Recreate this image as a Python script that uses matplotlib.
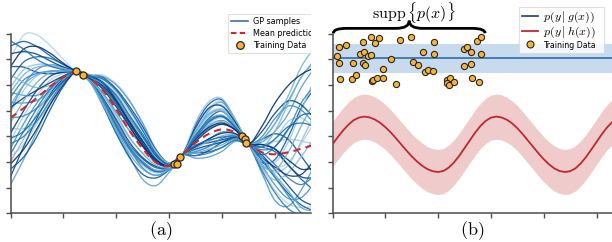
import numpy as np
import matplotlib
matplotlib.use("Agg")
import matplotlib.pyplot as plt
from matplotlib.lines import Line2D
from matplotlib.path import Path
from matplotlib.patches import PathPatch
from matplotlib.transforms import Bbox, TransformedBbox

plt.rcParams['mathtext.fontset'] = 'cm'
plt.rcParams['font.family'] = ['DejaVu Sans']

# ---------------- panel (a) data ----------------
gp_x = [0.00, 0.25, 0.50, 0.75, 1.00, 1.25, 1.50, 1.75, 2.00, 2.25, 2.50, 2.75,
        3.00, 3.25, 3.50, 3.75, 4.00, 4.25, 4.50, 4.75, 5.00, 5.25, 5.50, 5.75]
mean_pred = [3.72, 4.10, 4.50, 4.94, 5.30, 5.52, 5.25, 4.78, 4.05, 3.22, 2.52, 1.98,
             1.85, 2.28, 2.75, 3.10, 3.27, 3.15, 2.70, 2.38, 2.30, 2.38, 2.52, 2.68]
sample_dev = [
    [2.3, 2.85, 2.45, 1.6, 0.7, 0, 0.15, 0.6, 1.0, 1.2, 0.9, 0.4, 0.1, 0.0, 0.5, 1.0, 1.1, 0.5, 0.0, -0.6, -1.4, -2.0, -2.3, -2.4],
    [-2.6, -2.0, -1.3, -0.7, -0.25, 0, -0.1, -0.5, -0.85, -1.0, -1.2, -0.9, -0.25, 0.0, 0.4, 0.9, 1.05, 0.45, 0.0, 0.5, 1.2, 2.0, 2.8, 3.3],
    [1.5, 1.8, 1.6, 1.1, 0.5, 0, -0.05, -0.3, -0.5, -0.55, -0.4, -0.2, -0.05, 0.0, -0.4, -0.7, -0.7, -0.3, 0.0, 0.2, 0.1, -0.5, -1.2, -1.8],
    [-1.5, -1.4, -1.0, -0.6, -0.25, 0, 0.1, 0.4, 0.7, 0.8, 0.55, 0.25, 0.05, 0.0, 0.2, 0.4, 0.45, 0.2, 0.0, -0.3, -0.5, -0.4, 0.2, 0.9],
    [0.6, 0.2, -0.1, -0.2, -0.15, 0, 0.05, 0.2, 0.35, 0.4, 0.3, 0.15, 0.05, 0.0, -0.6, -0.9, -0.85, -0.35, 0.0, 0.4, 0.9, 1.5, 2.4, 3.0],
    [2.8, 2.6, 2.0, 1.2, 0.5, 0, -0.1, -0.4, -0.7, -0.75, -0.6, -0.35, -0.1, 0.0, 0.7, 1.15, 1.15, 0.5, 0.0, -0.3, -0.9, -1.6, -2.2, -2.6],
    [-0.9, -0.3, 0.1, 0.25, 0.15, 0, 0.1, 0.35, 0.6, 0.75, 0.7, 0.4, 0.1, 0.0, -0.3, -0.5, -0.45, -0.2, 0.0, 0.3, 0.5, 0.5, 0.3, 0.0],
    [1.0, 0.5, 0.1, -0.1, -0.1, 0, 0.15, 0.55, 0.95, 1.15, 1.0, 0.5, 0.1, 0.0, 0.1, 0.3, 0.35, 0.15, 0.0, -0.8, -1.8, -2.1, -1.6, -0.8],
    [-2.0, -1.9, -1.5, -0.9, -0.35, 0, -0.12, -0.6, -0.95, -1.05, -1.0, -0.6, -0.15, 0.0, 0.25, 0.6, 0.7, 0.3, 0.0, -0.4, -0.2, 0.6, 1.6, 2.2],
    [0.2, 0.7, 0.85, 0.6, 0.25, 0, -0.05, -0.2, -0.3, -0.3, -0.15, 0.0, 0.0, 0.0, 0.55, 0.95, 0.95, 0.4, 0.0, 0.1, 0.6, 1.2, 1.2, 0.6],
    [-1.2, -0.6, -0.2, 0.0, 0.05, 0, 0.05, 0.25, 0.4, 0.35, 0.2, 0.05, 0.0, 0.0, -0.2, -0.2, -0.1, -0.05, 0.0, -0.5, -1.2, -1.8, -1.9, -1.5],
    [2.0, 1.6, 1.0, 0.5, 0.2, 0, 0.12, 0.5, 0.8, 0.95, 0.85, 0.5, 0.1, 0.0, -0.5, -0.65, -0.5, -0.2, 0.0, 0.5, 0.8, 0.5, -0.3, -1.2],
    [-0.4, -0.8, -0.9, -0.7, -0.3, 0, -0.15, -0.55, -0.8, -0.8, -0.65, -0.4, -0.1, 0.0, 0.8, 1.25, 1.2, 0.5, 0.0, -0.2, -0.3, 0.4, 1.5, 2.6],
    [0.3, 0.9, 1.1, 0.85, 0.4, 0, 0.0, -0.1, -0.1, 0.0, 0.1, 0.1, 0.0, 0.0, 0.3, 0.55, 0.55, 0.25, 0.0, 0.6, 1.4, 1.8, 1.5, 0.8],
    [-2.3, -1.5, -0.8, -0.3, -0.05, 0, 0.05, 0.15, 0.2, 0.2, 0.1, 0.0, 0.0, 0.0, -0.1, -0.35, -0.4, -0.2, 0.0, -0.1, -0.6, -1.3, -2.0, -2.4],
    [1.2, 1.5, 1.3, 0.85, 0.35, 0, 0.1, 0.35, 0.5, 0.55, 0.5, 0.3, 0.05, 0.0, 0.35, 0.7, 0.8, 0.35, 0.0, -0.45, -0.7, -0.5, 0.3, 1.2],
    [0.0, -0.3, -0.4, -0.35, -0.15, 0, -0.05, -0.3, -0.6, -0.7, -0.75, -0.5, -0.15, 0.0, 0.1, 0.2, 0.2, 0.1, 0.0, 0.1, 0.3, 0.9, 1.8, 2.3],
    [2.5, 2.2, 1.7, 1.0, 0.4, 0, -0.1, -0.3, -0.4, -0.45, -0.35, -0.15, -0.05, 0.0, -0.25, -0.45, -0.5, -0.25, 0.0, 0.8, 1.6, 2.0, 1.7, 1.0],
    [-1.7, -1.2, -0.6, -0.2, 0.0, 0, 0.15, 0.45, 0.7, 0.85, 0.75, 0.45, 0.1, 0.0, 0.45, 0.8, 0.75, 0.3, 0.0, -0.6, -1.0, -0.8, -0.3, 0.3],
    [0.8, 1.1, 0.95, 0.6, 0.25, 0, -0.1, -0.45, -0.65, -0.65, -0.5, -0.3, -0.05, 0.0, -0.35, -0.5, -0.35, -0.15, 0.0, -0.3, -0.9, -1.7, -2.5, -2.7],
    [-0.6, -0.1, 0.3, 0.4, 0.2, 0, 0.1, 0.3, 0.45, 0.5, 0.45, 0.25, 0.05, 0.0, 0.6, 1.0, 0.9, 0.4, 0.0, 0.3, 0.2, -0.5, -1.1, -1.3],
    [1.7, 1.0, 0.4, 0.05, -0.05, 0, -0.1, -0.35, -0.55, -0.6, -0.55, -0.3, -0.1, 0.0, 0.2, 0.35, 0.3, 0.1, 0.0, 0.2, 0.9, 1.9, 2.8, 3.2],
    [-1.0, -1.1, -0.9, -0.55, -0.2, 0, 0.05, 0.1, 0.25, 0.3, 0.3, 0.2, 0.05, 0.0, -0.5, -0.75, -0.7, -0.3, 0.0, 0.0, -0.4, -1.0, -1.4, -1.2],
    [0.4, 0.4, 0.3, 0.15, 0.05, 0, 0.05, 0.2, 0.3, 0.35, 0.3, 0.15, 0.0, 0.0, 0.05, 0.15, 0.2, 0.1, 0.0, -0.2, -0.5, -0.9, -1.0, -0.6],
    [1.0, 1.3, 1.2, 0.8, 0.35, 0, 0.05, 0.25, 0.45, 0.5, 0.4, 0.2, 0.05, 0.0, -0.2, -0.3, -0.25, -0.1, 0.0, 0.5, 1.2, 2.2, 3.2, 3.8],
    [-1.4, -0.9, -0.4, -0.1, 0.0, 0, -0.08, -0.35, -0.6, -0.65, -0.55, -0.35, -0.1, 0.0, 0.3, 0.5, 0.5, 0.2, 0.0, -0.7, -1.5, -2.2, -2.6, -2.8],
    [2.0, 2.3, 2.0, 1.3, 0.55, 0, 0.1, 0.3, 0.35, 0.3, 0.2, 0.1, 0.0, 0.0, -0.15, -0.2, -0.15, -0.05, 0.0, 0.3, 0.2, -0.3, -0.8, -0.9],
    [-0.2, 0.3, 0.6, 0.55, 0.25, 0, -0.05, -0.15, -0.2, -0.25, -0.2, -0.1, -0.05, 0.0, 0.45, 0.75, 0.7, 0.3, 0.0, -0.5, -0.6, 0.0, 0.9, 1.7],
    [3.0, 2.3, 1.5, 0.8, 0.3, 0, 0.1, 0.45, 0.75, 0.85, 0.7, 0.35, 0.05, 0.0, -0.1, -0.25, -0.3, -0.15, 0.0, 0.2, 0.6, 1.0, 1.0, 0.7],
    [-1.8, -1.6, -1.2, -0.7, -0.3, 0, 0.0, 0.05, 0.1, 0.15, 0.1, 0.05, 0.0, 0.0, 0.15, 0.25, 0.25, 0.1, 0.0, 1.0, 2.0, 2.6, 2.9, 3.0],
    [0.5, 0.9, 0.9, 0.6, 0.25, 0, -0.12, -0.5, -0.8, -0.9, -0.8, -0.5, -0.1, 0.0, -0.4, -0.6, -0.6, -0.25, 0.0, -0.2, -0.8, -1.5, -2.3, -2.6],
    [-0.8, -0.9, -0.7, -0.4, -0.15, 0, 0.08, 0.3, 0.55, 0.6, 0.55, 0.3, 0.05, 0.0, 0.2, 0.45, 0.5, 0.2, 0.0, -0.1, 0.3, 0.9, 1.3, 1.2],
]
train_a_x = [1.247, 1.366, 3.087, 3.156, 3.213, 4.378, 4.435, 4.459]
train_a_y = [5.53, 5.41, 1.91, 1.93, 2.19, 3.00, 2.89, 2.74]

# ---------------- panel (b) data ----------------
h_x = [0.0, 0.1, 0.2, 0.3, 0.4, 0.5, 0.6, 0.7, 0.8, 0.9, 1.0, 1.1, 1.2, 1.3, 1.4,
       1.5, 1.6, 1.7, 1.8, 1.9, 2.0, 2.1, 2.2, 2.3, 2.4, 2.5, 2.6, 2.7, 2.8, 2.9,
       3.0, 3.1, 3.2, 3.3, 3.4, 3.5, 3.6, 3.7, 3.8, 3.9, 4.0, 4.1, 4.2, 4.3, 4.4,
       4.5, 4.6, 4.7, 4.8, 4.9, 5.0, 5.1, 5.2, 5.3]
h_mean = [2.69, 2.97, 3.23, 3.45, 3.63, 3.73, 3.77, 3.74, 3.66, 3.53, 3.36, 3.16,
          2.93, 2.69, 2.45, 2.22, 2.02, 1.85, 1.72, 1.64, 1.61, 1.65, 1.78, 1.98,
          2.24, 2.54, 2.84, 3.14, 3.40, 3.60, 3.73, 3.77, 3.74, 3.65, 3.51, 3.32,
          3.09, 2.84, 2.59, 2.34, 2.11, 1.91, 1.75, 1.65, 1.61, 1.64, 1.75, 1.94,
          2.19, 2.48, 2.78, 3.08, 3.35, 3.56]
h_std = 0.88
g_mean = 6.04
g_std = 0.56
train_b_x = [0.08, 0.13, 0.25, 0.12, 0.14, 0.36, 0.38, 0.45, 0.58, 0.52, 0.60, 0.57,
             0.62, 0.67, 0.72, 0.73, 0.875, 0.80, 0.74, 0.77, 0.84, 0.96, 0.96, 1.10,
             1.20, 1.27, 1.48, 1.92, 1.71, 1.92, 1.52, 1.61, 1.75, 1.80, 1.90, 2.17,
             2.22, 2.16, 2.20, 2.30, 2.49, 2.55, 2.63, 2.81, 2.49, 2.63, 2.64, 2.77,
             2.74, 2.82]
train_b_y = [6.14, 6.48, 6.56, 5.87, 5.24, 5.22, 5.86, 5.39, 6.67, 6.21, 6.28, 5.85,
             5.78, 6.13, 6.18, 6.87, 6.85, 6.63, 5.15, 5.18, 5.26, 5.27, 5.61, 6.02,
             5.05, 6.77, 6.86, 6.68, 6.30, 6.21, 5.89, 5.77, 5.52, 5.59, 5.56, 5.18,
             5.27, 5.08, 4.99, 5.11, 6.42, 6.50, 6.28, 6.22, 5.75, 5.81, 5.26, 5.11,
             6.70, 6.86]
support_range = (0.015, 2.89)

# ---------------- figure ----------------
W, H = 612, 242
fig = plt.figure(figsize=(W / 100, H / 100), dpi=100)

def px_axes(x0, x1, y_bottom, y_top):
    return fig.add_axes([x0 / W, 1 - y_bottom / H, (x1 - x0) / W, (y_bottom - y_top) / H])

def smooth_path(x, y):
    """Smooth rendering (Catmull-Rom Bezier) through the given points."""
    p = np.column_stack([x, y]).astype(float)
    ext = np.vstack([p[0], p, p[-1]])
    verts = [tuple(p[0])]
    codes = [Path.MOVETO]
    for i in range(len(p) - 1):
        a, b, c, d = ext[i], ext[i + 1], ext[i + 2], ext[i + 3]
        c1 = b + (c - a) / 6.0
        c2 = c - (d - b) / 6.0
        verts += [tuple(c1), tuple(c2), tuple(c)]
        codes += [Path.CURVE4] * 3
    return Path(verts, codes)

y_bot_px = 213.3
unit_y = 25.65
ymax = 7.4
top_px = y_bot_px - ymax * unit_y

ax_a = px_axes(10.5, 311, y_bot_px, top_px)
ax_b = px_axes(332.5, 612, y_bot_px, top_px)

spine_col = '0.3'
for ax in (ax_a, ax_b):
    for s in ('top', 'right'):
        ax.spines[s].set_visible(False)
    for s in ('left', 'bottom'):
        ax.spines[s].set_color(spine_col)
        ax.spines[s].set_linewidth(1.1)
    ax.spines['left'].set_bounds(0, 7)
    ax.set_ylim(0, ymax)
    ax.set_yticks(range(0, 8))
    ax.tick_params(direction='out', length=3.5, width=1.0, color=spine_col,
                   labelleft=False, labelbottom=False)

ax_a.set_xlim(0, (311 - 10.5) / 52.9)
ax_a.set_xticks(range(0, 6))
ax_b.set_xlim(0, (612 - 332.5) / 52.8)
ax_b.set_xticks(range(0, 6))

# ---- panel (a)
cmap = plt.get_cmap('Blues')
n = len(sample_dev)
shades = np.linspace(0.3, 1.0, n)
order = [(i * 11) % n for i in range(n)]
gx = np.array(gp_x)
gm = np.array(mean_pred)
for i, dev in enumerate(sample_dev):
    ax_a.add_patch(PathPatch(smooth_path(gx, gm + np.array(dev)), facecolor='none',
                             edgecolor=cmap(shades[order[i]]), lw=0.95, alpha=0.9,
                             zorder=2))
ax_a.add_patch(PathPatch(smooth_path(gx, gm), facecolor='none', edgecolor='#d62728',
                         lw=1.5, ls=(0, (3.5, 2.5)), zorder=4))
ax_a.scatter(train_a_x, train_a_y, s=26, color='#f7b538', edgecolor='0.15',
             linewidth=0.9, zorder=5)

h_a = [Line2D([], [], color='#3d6cae', lw=1.2),
       Line2D([], [], color='#d62728', lw=1.5, ls=(0, (2.6, 1.6))),
       Line2D([], [], ls='', marker='o', markersize=5.5, markerfacecolor='#f7b538',
              markeredgecolor='0.15', markeredgewidth=0.9)]
leg_a = fig.legend(h_a, ['GP samples', 'Mean prediction', 'Training Data'],
                   loc='upper left', bbox_to_anchor=(228 / W, 1 - 14 / H),
                   bbox_transform=fig.transFigure, fontsize=5.8, frameon=True,
                   fancybox=False, edgecolor='0.85', handlelength=2.1,
                   labelspacing=0.35, borderpad=0.4, handletextpad=0.62,
                   borderaxespad=0)
leg_a.get_frame().set_linewidth(0.8)
clip = TransformedBbox(Bbox([[0, 0], [311 / W, 1]]), fig.transFigure)
for art in leg_a.findobj():
    art.set_clip_box(clip)
    art.set_clip_on(True)

# ---- panel (b)
bx = np.array(ax_b.get_xlim())
ax_b.fill_between(bx, g_mean - g_std, g_mean + g_std, color='#c8daee', lw=0, zorder=1)
ax_b.plot(bx, [g_mean, g_mean], color='#3a75b5', lw=1.3, zorder=2)
hx = np.array(h_x)
hm = np.array(h_mean)
ax_b.fill_between(hx, hm - h_std, hm + h_std, color='#f0cbcc', lw=0, zorder=1)
ax_b.plot(hx, hm, color='#c0282d', lw=1.3, zorder=2)
ax_b.scatter(train_b_x, train_b_y, s=20, color='#f7b538', edgecolor='0.15',
             linewidth=0.8, zorder=5, clip_on=False)

# brace above support
x0, x1 = support_range
xc = (x0 + x1) / 2
ye, ym, yt = 7.02, 7.21, 7.51
w = 0.25
verts = [(x0, ye), (x0, ym), (x0 + w, ym), (xc - w, ym), (xc, ym), (xc, yt),
         (xc, ym), (xc + w, ym), (x1 - w, ym), (x1, ym), (x1, ye)]
codes = [Path.MOVETO, Path.CURVE3, Path.CURVE3, Path.LINETO, Path.CURVE3, Path.CURVE3,
         Path.CURVE3, Path.CURVE3, Path.LINETO, Path.CURVE3, Path.CURVE3]
ax_b.add_patch(PathPatch(Path(verts, codes), facecolor='none', edgecolor='black',
                         lw=2.0, clip_on=False, zorder=6))
ax_b.text(xc + 0.08, 7.82, r'$\mathrm{supp}\,\{p(x)\}$', ha='center', va='center',
          fontsize=11.5, clip_on=False)

h_b = [Line2D([], [], color='#2f4a8e', lw=1.3),
       Line2D([], [], color='#c0282d', lw=1.3),
       Line2D([], [], ls='', marker='o', markersize=5, markerfacecolor='#f7b538',
              markeredgecolor='0.15', markeredgewidth=0.8)]
leg_b = fig.legend(h_b, [r'$p(y\mid g(x))$' + '  ', r'$p(y\mid h(x))$' + '  ',
                         'Training Data'],
                   loc='upper left', bbox_to_anchor=(519 / W, 1 - 7 / H),
                   bbox_transform=fig.transFigure, fontsize=8.6, frameon=True,
                   fancybox=False, edgecolor='0.85', handlelength=1.3,
                   labelspacing=-0.05, borderpad=0.25, handletextpad=0.45,
                   borderaxespad=0)
leg_b.get_frame().set_linewidth(0.8)
leg_b.get_texts()[2].set_fontsize(5.7)

# sub-captions
fig.text((10.5 + 311) / 2 / W, 1 - 231 / H, r'$\mathrm{(a)}$', ha='center',
         va='center', fontsize=13)
fig.text((332.5 + 612) / 2 / W, 1 - 231 / H, r'$\mathrm{(b)}$', ha='center',
         va='center', fontsize=13)

fig.savefig('out.png', dpi=100)
